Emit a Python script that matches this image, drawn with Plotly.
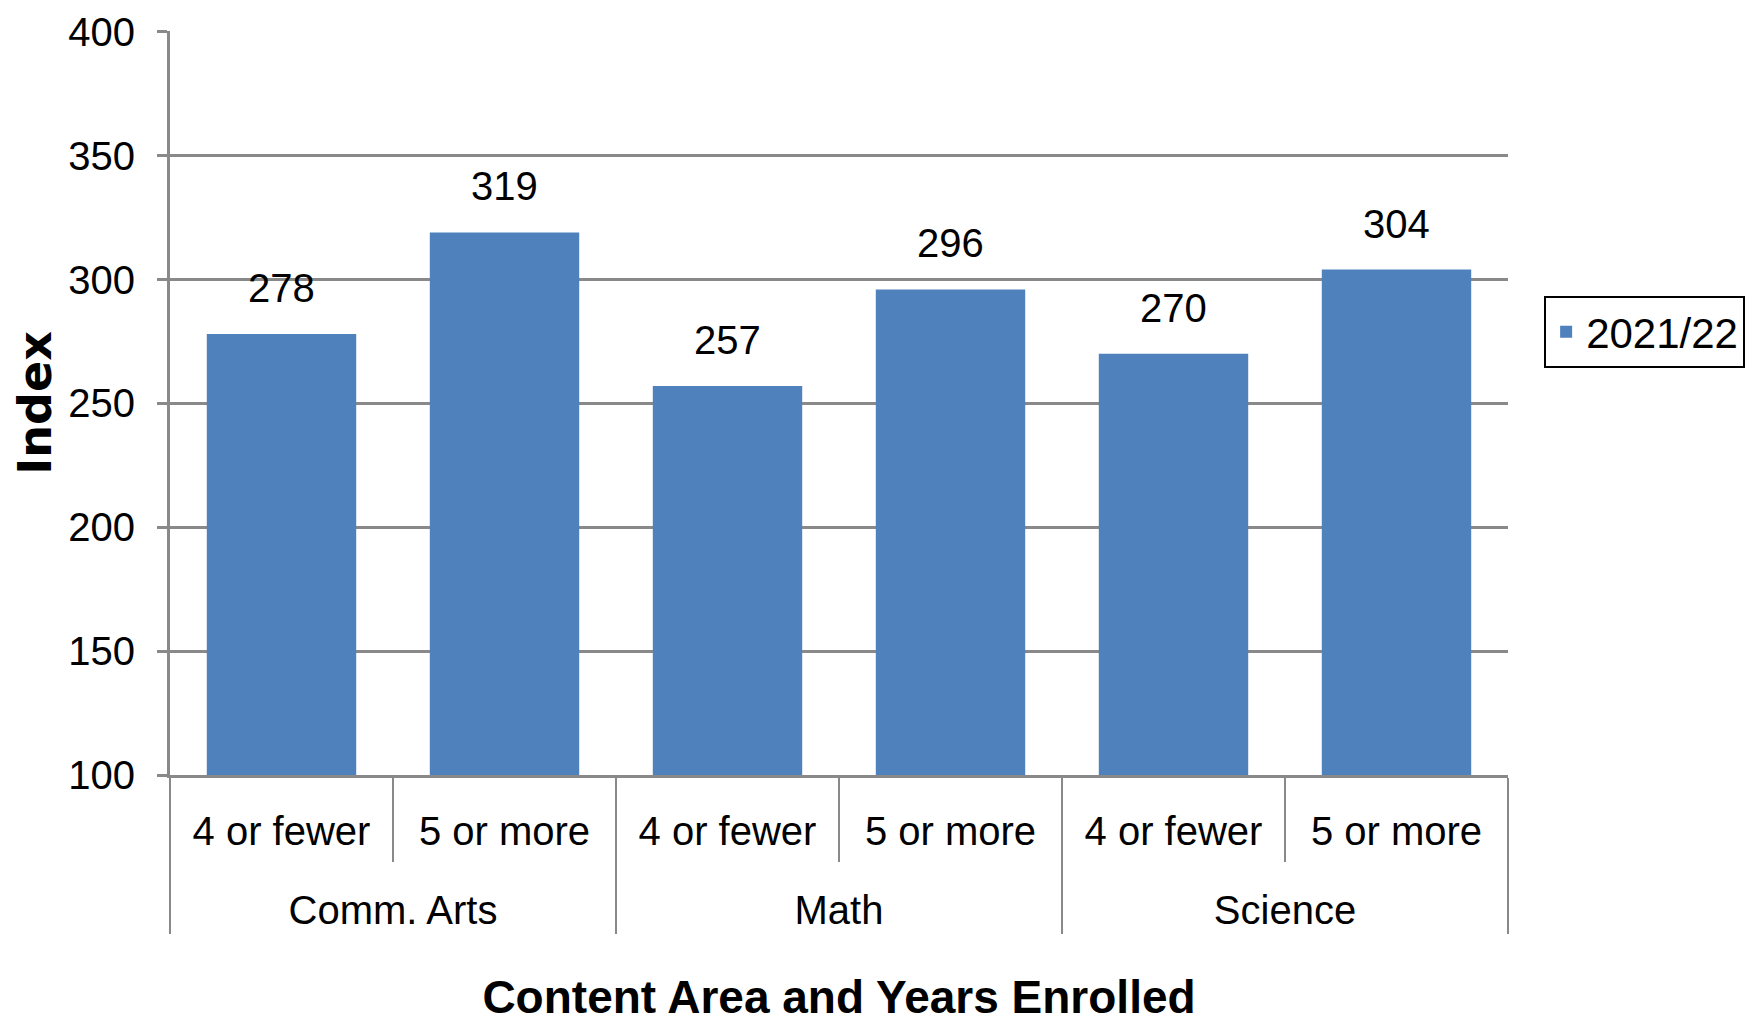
import plotly.graph_objects as go

groups = ["Comm. Arts", "Comm. Arts", "Math", "Math", "Science", "Science"]
subs = ["4 or fewer", "5 or more", "4 or fewer", "5 or more", "4 or fewer", "5 or more"]
values = [278, 319, 257, 296, 270, 304]
series_name = "2021/22"
y_ticks = [100, 150, 200, 250, 300, 350, 400]

FONT = "Liberation Sans Narrow, Arial Narrow, Liberation Sans, Arial, sans-serif"
FS = 40
GRID = "#898989"
BAR = "#4F81BD"

# second-level labels sit one line lower, as in the reference
group_labels = ["<br>" + g for g in groups]

fig = go.Figure()
fig.add_trace(go.Bar(
    x=[group_labels, subs], y=values, name=series_name,
    marker=dict(color=BAR, line=dict(width=0)),
    showlegend=True,
))

for i, v in enumerate(values):
    fig.add_annotation(x=i, y=v, xref="x", yref="y", text=str(v),
                       showarrow=False, yanchor="bottom", yshift=22,
                       font=dict(family=FONT, size=FS, color="black"))

fig.add_shape(type="line", xref="paper", yref="paper",
              x0=1.1853, x1=1.1853, y0=-0.34, y1=1.04,
              line=dict(color="black", width=3))

fig.update_layout(
    width=1749, height=1017,
    margin=dict(l=162, r=249, t=23, b=250, autoexpand=False),
    paper_bgcolor="white", plot_bgcolor="white",
    bargap=0.33,
    font=dict(family=FONT, size=FS, color="black"),
    legend=dict(x=1.027, xanchor="left", y=0.644, yanchor="top",
                bordercolor="black", borderwidth=2,
                font=dict(family=FONT, size=42, color="black")),
    xaxis=dict(
        type="multicategory",
        showline=True, linecolor=GRID, linewidth=3,
        ticks="outside", tickson="boundaries", ticklen=84,
        tickcolor=GRID, tickwidth=2,
        showdividers=True, dividercolor=GRID, dividerwidth=2,
        tickfont=dict(family=FONT, size=FS, color="black"),
        ticklabelstandoff=19,
        title=dict(text="<b>Content Area and Years Enrolled</b>",
                   font=dict(family=FONT, size=46, color="black"), standoff=50),
        showgrid=False,
    ),
    yaxis=dict(
        range=[100, 400.3], tickvals=y_ticks,
        showline=True, linecolor=GRID, linewidth=3,
        ticks="outside", ticklen=10, tickcolor=GRID, tickwidth=3,
        showgrid=True, gridcolor=GRID, gridwidth=3, zeroline=False,
        tickfont=dict(family=FONT, size=FS, color="black"),
        ticklabelstandoff=14, ticklabeloverflow="allow",
        title=dict(text="<b>Index</b>",
                   font=dict(family="DejaVu Sans", size=46, color="black"), standoff=30),
    ),
)

fig.write_html("out.html")
